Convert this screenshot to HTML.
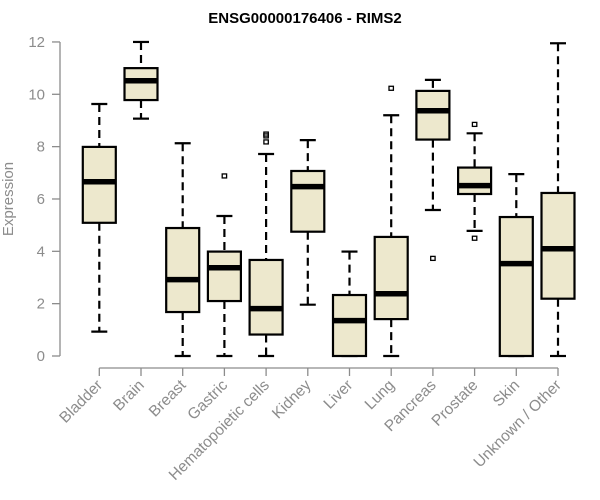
<!DOCTYPE html>
<html><head><meta charset="utf-8"><style>
body{margin:0;background:#fff;}
svg{display:block;font-family:"Liberation Sans",Arial,sans-serif;}
</style></head><body>
<svg id="chart" width="600" height="500">
<text x="305" y="23" text-anchor="middle" font-weight="bold" font-size="15" fill="#000">ENSG00000176406 - RIMS2</text>
<text transform="translate(13,199) rotate(-90)" text-anchor="middle" font-size="15" fill="#8c8c8c">Expression</text>
<g id="yaxis"></g>
<g id="xaxis"></g>
<g id="boxes"></g>
</svg>
<script>
const categories=["Bladder","Brain","Breast","Gastric","Hematopoietic cells","Kidney","Liver","Lung","Pancreas","Prostate","Skin","Unknown / Other"];
const whiskerLow=[0.93,9.07,0,0,0,1.96,0,0,5.58,4.78,0,0];
const q1=[5.09,9.78,1.68,2.10,0.82,4.75,0,1.41,8.27,6.19,0,2.19];
const median=[6.66,10.52,2.92,3.37,1.81,6.47,1.35,2.38,9.37,6.51,3.53,4.10];
const q3=[7.99,11.0,4.89,3.99,3.67,7.07,2.33,4.55,10.13,7.2,5.31,6.23];
const whiskerHigh=[9.63,12.0,8.13,5.35,7.72,8.25,3.99,9.2,10.55,8.51,6.95,11.95];
const outliers=[[],[],[],[6.88],[8.48,8.41,8.18],[],[],[10.23],[3.73],[8.85,4.5],[],[]];
const yTicks=[0,2,4,6,8,10,12];
const NS="http://www.w3.org/2000/svg";
const y=v=>356-v*26.17;
const x=i=>99.3+i*41.7;
function mk(tag,attrs,parent){const e=document.createElementNS(NS,tag);for(const k in attrs)e.setAttribute(k,attrs[k]);parent.appendChild(e);return e;}
const ya=document.getElementById('yaxis'),xa=document.getElementById('xaxis'),bx=document.getElementById('boxes');
let l=mk('line',{x1:60,x2:60,y1:y(0),y2:y(12),stroke:'#8c8c8c','stroke-width':1.3},ya);


yTicks.forEach(t=>{
 const tk=mk('line',{x1:52,x2:60,y1:y(t),y2:y(t),stroke:'#8c8c8c','stroke-width':1.3},ya);
 
 
 const tx=mk('text',{x:45,y:y(t)+5,'text-anchor':'end','font-size':15,fill:'#8c8c8c'},ya);
 tx.textContent=t;
 
 
});
l=mk('line',{x1:x(0),x2:x(categories.length-1),y1:368,y2:368,stroke:'#8c8c8c','stroke-width':1.3},xa);


categories.forEach((c,i)=>{
 const tk=mk('line',{x1:x(i),x2:x(i),y1:368,y2:376,stroke:'#8c8c8c','stroke-width':1.3},xa);
 
 
 const tx=mk('text',{transform:`translate(${x(i)+4},${386}) rotate(-45)`,'text-anchor':'end','font-size':15.5,fill:'#8c8c8c'},xa);
 tx.textContent=c;
 
 
 const g=mk('g',{},bx);
 
 
 const cx=x(i),hw=16.5,cw=8;
 mk('line',{x1:cx,x2:cx,y1:y(whiskerHigh[i]),y2:y(q3[i]),stroke:'#000','stroke-width':2.2,'stroke-dasharray':'8,5'},g);
 mk('line',{x1:cx,x2:cx,y1:y(q1[i]),y2:y(whiskerLow[i]),stroke:'#000','stroke-width':2.2,'stroke-dasharray':'8,5'},g);
 mk('line',{x1:cx-cw,x2:cx+cw,y1:y(whiskerHigh[i]),y2:y(whiskerHigh[i]),stroke:'#000','stroke-width':2.2},g);
 mk('line',{x1:cx-cw,x2:cx+cw,y1:y(whiskerLow[i]),y2:y(whiskerLow[i]),stroke:'#000','stroke-width':2.2},g);
 mk('rect',{x:cx-hw,y:y(q3[i]),width:hw*2,height:y(q1[i])-y(q3[i]),fill:'#ede8cd',stroke:'#000','stroke-width':2.2},g);
 mk('line',{x1:cx-hw,x2:cx+hw,y1:y(median[i]),y2:y(median[i]),stroke:'#000','stroke-width':5.5},g);
 outliers[i].forEach(o=>{
  const p=mk('rect',{x:cx-2.2,y:y(o)-2,width:4.4,height:4,fill:'none',stroke:'#000','stroke-width':1.3},g);
  
  
 });
});
</script>
</body></html>
